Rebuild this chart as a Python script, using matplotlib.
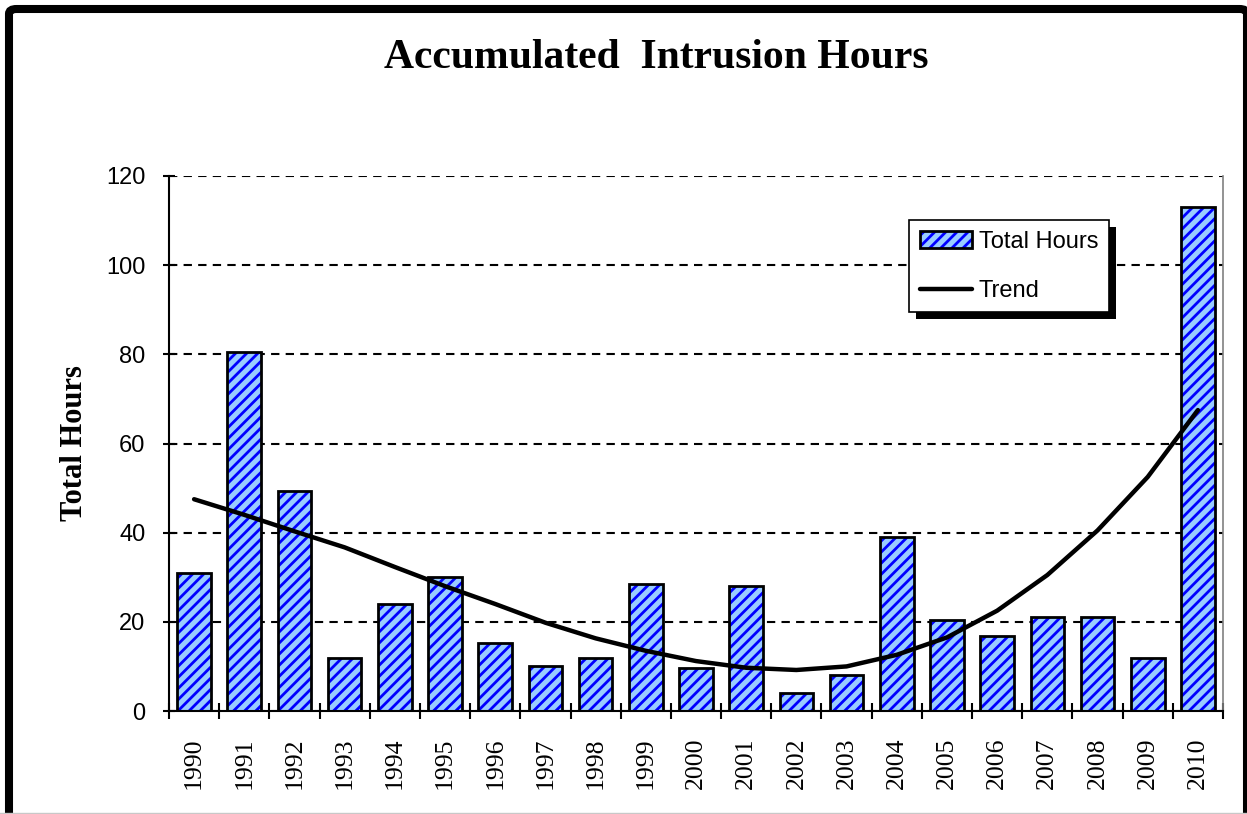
import numpy as np
import matplotlib
matplotlib.use('Agg')
import matplotlib.pyplot as plt
from matplotlib.patches import Rectangle, FancyBboxPatch
from matplotlib.legend_handler import HandlerTuple

# data
years = [str(y) for y in range(1990, 2011)]
total_hours = [31, 80.5, 49.3, 12, 24, 30, 15.3, 10, 12, 28.5, 9.6, 28, 4, 8, 39, 20.4, 16.8, 21, 21, 12, 113]
trend = [47.5, 44, 40.3, 36.7, 32.3, 28, 24, 19.8, 16.3, 13.5, 11.2, 9.7, 9.2, 10, 12.6, 16.5, 22.5, 30.5, 40.5, 52.5, 67.5]

plt.rcParams['hatch.linewidth'] = 2.0

fig = plt.figure(figsize=(12.47, 8.14), dpi=100)
ax = fig.add_axes([169/1247, 1-711/814, (1223-169)/1247, (711-176)/814])

x = np.arange(len(years))

# hatched fill first, then black outline on top
bars_fill = ax.bar(x, total_hours, width=0.67, color='#99CCFF', edgecolor='#0000FF',
                   hatch='///', linewidth=0, zorder=2)
bars_edge = ax.bar(x, total_hours, width=0.67, fill=False, edgecolor='black',
                   linewidth=2, zorder=3)
trend_line, = ax.plot(x, trend, color='black', linewidth=3.2, zorder=4,
                      solid_capstyle='round')

ax.set_xlim(-0.5, len(years) - 0.5)
ax.set_ylim(0, 120)
ax.set_yticks(range(0, 121, 20))
ax.yaxis.grid(True, linestyle=(0, (4, 3)), color='black', linewidth=1.5)
ax.set_axisbelow(True)

ax.spines['top'].set_visible(False)
ax.spines['right'].set_color('#808080')
ax.spines['right'].set_linewidth(1.2)
ax.spines['left'].set_linewidth(1.5)
ax.spines['bottom'].set_linewidth(1.5)

ax.tick_params(axis='y', direction='inout', length=8, width=1.5, pad=13,
               labelsize=17)
for lab in ax.get_yticklabels():
    lab.set_fontfamily('Liberation Sans')

ax.set_xticks(x)
ax.set_xticklabels(years, rotation=90, fontfamily='Liberation Serif', fontsize=18.5)
ax.set_xticks(np.arange(-0.5, len(years), 1), minor=True)
ax.tick_params(axis='x', which='major', length=0, pad=19)
ax.tick_params(axis='x', which='minor', direction='inout', length=12, width=1.5)

ax.set_ylabel('Total Hours', fontfamily='Liberation Serif', fontweight='bold',
              fontsize=22)
ax.yaxis.set_label_coords(-(169-89)/1054, 0.5)

fig.text(656/1247, 1-58/814, 'Accumulated  Intrusion Hours', ha='center', va='center',
         fontfamily='Liberation Serif', fontweight='bold', fontsize=30)

leg = ax.legend([(bars_fill[0], bars_edge[0]), trend_line], ['Total Hours', 'Trend'],
                handler_map={tuple: HandlerTuple(ndivide=1)},
                loc='upper left', bbox_to_anchor=((909-169)/1054, (711-220)/535),
                borderaxespad=0, fancybox=False, framealpha=1, edgecolor='black',
                prop={'family': 'Liberation Sans', 'size': 17}, handlelength=2.2,
                handletextpad=0.3, labelspacing=1.15, borderpad=0.45)
leg.get_frame().set_linewidth(1.2)
leg.set_zorder(6)

# black drop shadow behind legend
fig.canvas.draw()
bb = leg.get_window_extent().transformed(ax.transAxes.inverted())
dx, dy = 7/1054, 7/535
ax.add_patch(Rectangle((bb.x0 + dx, bb.y0 - dy), bb.width, bb.height, transform=ax.transAxes,
                       facecolor='black', edgecolor='none', zorder=5.5, clip_on=False))

# outer frame
fig.patches.append(FancyBboxPatch((9/1247, -20/814), (1247-9)/1247, (814-9+20)/814,
                                  boxstyle='round,pad=0,rounding_size=0.006',
                                  transform=fig.transFigure, fill=False,
                                  edgecolor='black', linewidth=5.8))
fig.add_artist(plt.Line2D([0, 1], [1.5/814, 1.5/814], transform=fig.transFigure,
                          color='#c8c8c8', linewidth=1))

fig.savefig('out.png', dpi=100)
